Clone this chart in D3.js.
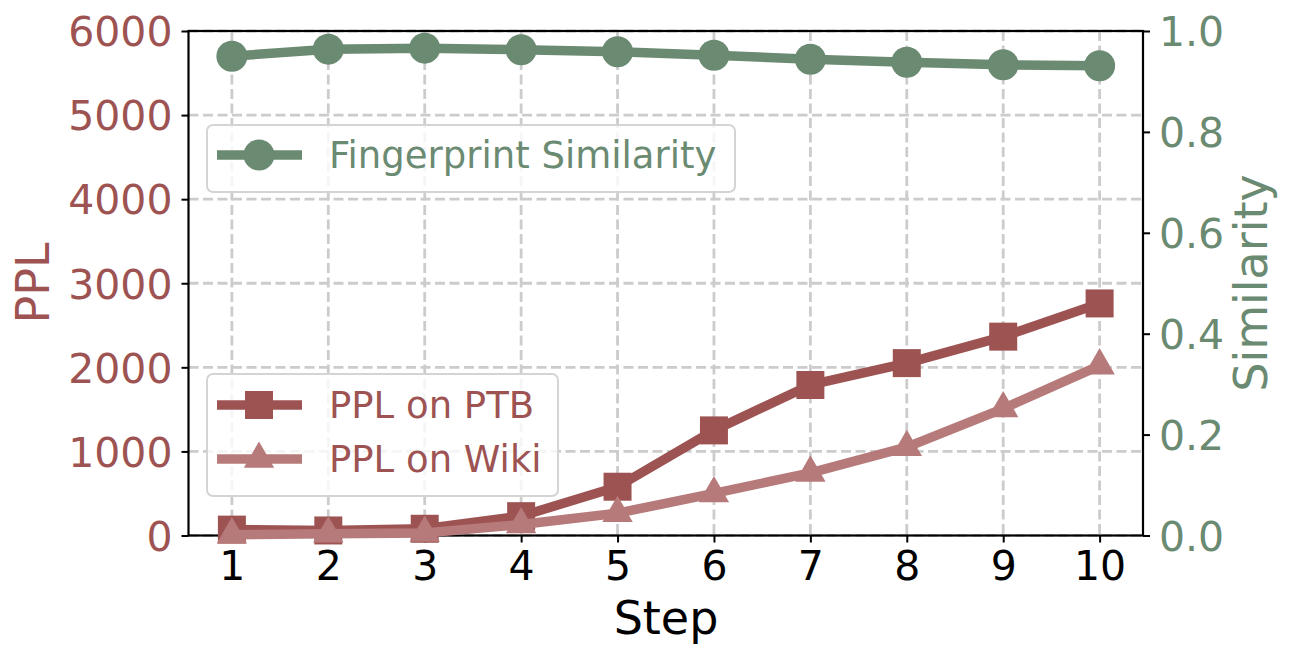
<!DOCTYPE html>
<html><head><meta charset="utf-8">
<script src="https://cdn.jsdelivr.net/npm/d3@7"></script>
<style>body{margin:0;background:#fff}svg{display:block}text{font-family:"DejaVu Sans",sans-serif}</style>
</head><body>
<svg id="c" width="1292" height="659"></svg>
<script>
const steps = [1,2,3,4,5,6,7,8,9,10];
const pplPTB = [70, 60, 80, 230, 580, 1250, 1790, 2050, 2365, 2760];
const pplWiki = [10, 20, 30, 130, 265, 500, 745, 1050, 1510, 2020];
const similarity = [0.950, 0.964, 0.966, 0.963, 0.959, 0.952, 0.944, 0.938, 0.933, 0.931];
const leftTicks = [0,1000,2000,3000,4000,5000,6000];
const rightTicks = [0.0,0.2,0.4,0.6,0.8,1.0];

const cRed = "#9e5353", cPink = "#b77a7a", cGreen = "#6b8a72";
const svg = d3.select("#c");
const L = 188.5, R = 1143, T = 31, B = 535.5;
const x = d3.scaleLinear().domain([0.55, 10.45]).range([L, R]);
const y = d3.scaleLinear().domain([0, 6000]).range([B, T]);
const y2 = d3.scaleLinear().domain([0, 1]).range([B, T]);

// grid
const g = svg.append("g");
g.selectAll(".gx").data(steps).enter().append("line")
  .attr("x1", d=>x(d)).attr("x2", d=>x(d)).attr("y1", T).attr("y2", B)
  .attr("stroke", "#cccccc").attr("stroke-width", 2.8).attr("stroke-dasharray", "10,4.5");
g.selectAll(".gy").data(leftTicks).enter().append("line")
  .attr("y1", d=>y(d)).attr("y2", d=>y(d)).attr("x1", L).attr("x2", R)
  .attr("stroke", "#cccccc").attr("stroke-width", 2.8).attr("stroke-dasharray", "10,4.5");

// axes
const ax = svg.append("g").attr("transform", `translate(0,${B})`)
  .call(d3.axisBottom(x).tickValues(steps).tickFormat(d3.format("d")).tickSize(7).tickPadding(8));
const ay = svg.append("g").attr("transform", `translate(${L},0)`)
  .call(d3.axisLeft(y).tickValues(leftTicks).tickFormat(d3.format("d")).tickSize(7).tickPadding(9));
const ay2 = svg.append("g").attr("transform", `translate(${R},0)`)
  .call(d3.axisRight(y2).tickValues(rightTicks).tickFormat(d3.format(".1f")).tickSize(7).tickPadding(9));
[ax, ay, ay2].forEach(a => {
  a.select(".domain").remove();
  a.selectAll(".tick line").attr("stroke", "#000").attr("stroke-width", 2);
  a.selectAll(".tick text").attr("font-size", 41).attr("font-family", "DejaVu Sans");
});
ax.selectAll(".tick text").attr("fill", "#000");
ay.selectAll(".tick text").attr("fill", cRed).attr("dy", "0.36em");
ay2.selectAll(".tick text").attr("fill", cGreen).attr("dy", "0.36em");

// frame
svg.append("rect").attr("x", L).attr("y", T).attr("width", R-L).attr("height", B-T)
  .attr("fill", "none").attr("stroke", "#000").attr("stroke-width", 2.2);

// labels
svg.append("text").attr("x", 666).attr("y", 634).attr("text-anchor", "middle")
  .attr("font-size", 46).attr("fill", "#000").text("Step");
svg.append("text").attr("transform", "translate(49,283) rotate(-90)").attr("text-anchor", "middle")
  .attr("font-size", 46).attr("fill", cRed).text("PPL");
svg.append("text").attr("transform", "translate(1267,283) rotate(-90)").attr("text-anchor", "middle")
  .attr("font-size", 46).attr("fill", cGreen).text("Similarity");

// lines
function drawSeries(vals, sc, color, marker) {
  const line = d3.line().x((d,i)=>x(steps[i])).y(d=>sc(d));
  svg.append("path").datum(vals).attr("d", line).attr("fill", "none")
    .attr("stroke", color).attr("stroke-width", 9.5).attr("stroke-linejoin", "round");
  const sym = d3.symbol().type(marker.type).size(marker.size);
  svg.selectAll(null).data(vals).enter().append("path")
    .attr("d", sym).attr("transform", (d,i)=>`translate(${x(steps[i])},${sc(d)})`)
    .attr("fill", color);
}
drawSeries(pplPTB, y, cRed, {type: d3.symbolSquare, size: 28*28});
drawSeries(pplWiki, y, cPink, {type: d3.symbolTriangle, size: 400});
drawSeries(similarity, y2, cGreen, {type: d3.symbolCircle, size: Math.PI*15.5*15.5});

// legends
function legend(x0, y0, w, h, items) {
  svg.append("rect").attr("x", x0).attr("y", y0).attr("width", w).attr("height", h)
    .attr("rx", 6).attr("fill", "rgba(255,255,255,0.8)").attr("stroke", "#d4d4d4").attr("stroke-width", 2);
  items.forEach(it => {
    svg.append("line").attr("x1", x0+10).attr("x2", x0+95).attr("y1", it.y).attr("y2", it.y)
      .attr("stroke", it.color).attr("stroke-width", 9.5);
    svg.append("path").attr("d", d3.symbol().type(it.type).size(it.size)())
      .attr("transform", `translate(${x0+52},${it.y})`).attr("fill", it.color);
    svg.append("text").attr("x", x0+122).attr("y", it.y+13).attr("font-size", 37)
      .attr("fill", it.textColor).text(it.label);
  });
}
legend(207, 125, 528, 67, [{y:155, color:cGreen, textColor:cGreen, type:d3.symbolCircle, size:Math.PI*15.5*15.5, label:"Fingerprint Similarity"}]);
legend(207, 374, 351, 122, [
  {y:405, color:cRed, textColor:cRed, type:d3.symbolSquare, size:28*28, label:"PPL on PTB"},
  {y:459, color:cPink, textColor:cRed, type:d3.symbolTriangle, size:400, label:"PPL on Wiki"}
]);
</script>
</body></html>
